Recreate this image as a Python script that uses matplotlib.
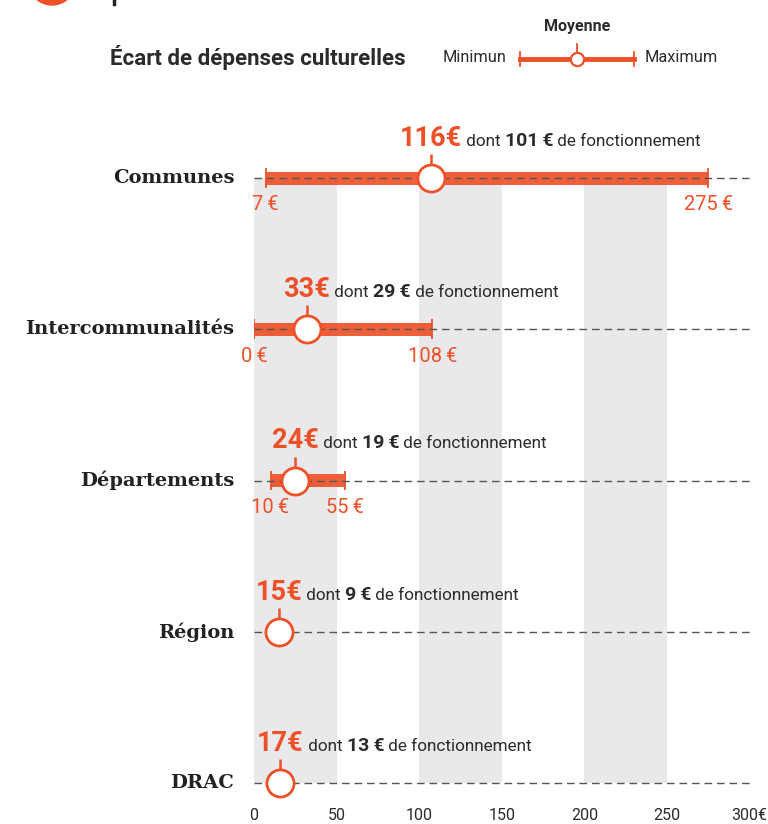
import numpy as np
import matplotlib.pyplot as plt
from matplotlib.lines import Line2D
from matplotlib.patches import Circle

# données
niveaux = ['Communes', 'Intercommunalités', 'Départements', 'Région', 'DRAC']
moyenne = [116, 33, 24, 15, 17]
moyenne_pos = [107, 32, 25, 15, 16]   # position du cercle
fonctionnement = [101, 29, 19, 9, 13]
minimum = [7, 0, 10, None, None]
maximum = [275, 108, 55, None, None]
ticks = [0, 50, 100, 150, 200, 250, 300]
tick_labels = ['0', '50', '100', '150', '200', '250', '300€']

ORANGE = '#EE5128'
GRIS = '#E9E9EC'
TEXTE = '#2b2b2b'
SANS = ['Roboto', 'DejaVu Sans']
SERIF = ['DejaVu Serif']

W, H = 768, 824
fig = plt.figure(figsize=(W / 100, H / 100), dpi=100)
renderer = fig.canvas.get_renderer()

def fpx(x, y):
    return x / W, 1 - y / H

# axes: 0 -> px 254, 300 -> px 749.6 ; lignes tous les 151.25 px, la première à y=178
ROW = 151.25
ax = fig.add_axes([254 / W, 0, 495.6 / W, 1])
ax.set_xlim(0, 300)
ax.set_ylim((H - 178) / ROW, -178 / ROW)
ax.axis('off')
py = lambda p: p / ROW  # pixels -> unités y

# bandes grises
for a in [0, 100, 200]:
    ax.fill_between([a, a + 50], 0, len(niveaux) - 1, color=GRIS, lw=0, zorder=0)

rows = np.arange(len(niveaux))

for i, nom in enumerate(niveaux):
    ax.text(-12, i, nom, ha='right', va='center', fontsize=14, fontweight='bold',
            family=SERIF, color='#222222', clip_on=False)
    if minimum[i] is not None:
        ax.barh(i, maximum[i] - minimum[i], left=minimum[i], height=py(13),
                color=ORANGE, alpha=0.92, zorder=2, lw=0)
        ax.vlines([minimum[i], maximum[i]], i - py(10), i + py(10), color=ORANGE, lw=1.3, zorder=2)
        for v in [minimum[i], maximum[i]]:
            ax.text(v, i + py(27), f'{v}\u2009€', ha='center', va='center', fontsize=14.5,
                    color=ORANGE, family=SANS)

ax.hlines(rows, 0, 300, color='#555555', lw=1, linestyles=(0, (5.5, 3.5)), zorder=3)

for i in rows:
    x = moyenne_pos[i]
    ax.vlines(x, i - py(14), i - py(24), color=ORANGE, lw=1.8, zorder=4)
    ax.plot(x, i, 'o', ms=19.5, mfc='white', mec=ORANGE, mew=2, zorder=5)
    yb = i - py(32)
    t = ax.text(x, yb, f'{moyenne[i]}€', ha='center', va='baseline', fontsize=19.5,
                fontweight='bold', color=ORANGE, family=SANS)
    morceaux = [(' dont ', 'normal'), (f'{fonctionnement[i]}\u2009€', 'bold'),
                (' de fonctionnement', 'normal')]
    for s, w in morceaux:
        x1 = t.get_window_extent(renderer).x1
        xd = ax.transData.inverted().transform((x1, 0))[0]
        fs = 14 if w == 'bold' else 12.3
        t = ax.text(xd, yb, s, ha='left', va='baseline', fontsize=fs, fontweight=w,
                    color=TEXTE, family=SANS)

for v, lab in zip(ticks, tick_labels):
    ax.text(v, 4 + py(32), lab, ha='center', va='center', fontsize=11.5,
            color=TEXTE, family=SANS, clip_on=False)

# légende
fig.text(*fpx(110, 57), 'Écart de dépenses culturelles', ha='left', va='center',
         fontsize=16, fontweight='bold', color=TEXTE, family=SANS)
fig.text(*fpx(443, 58), 'Minimun', ha='left', va='center', fontsize=11.8,
         color=TEXTE, family=SANS)
fig.text(*fpx(645, 58), 'Maximum', ha='left', va='center', fontsize=11.8,
         color=TEXTE, family=SANS)
fig.text(*fpx(577, 27), 'Moyenne', ha='center', va='center', fontsize=11.5,
         fontweight='bold', color=TEXTE, family=SANS)
(x0, y0), (x1, _) = fpx(520, 59), fpx(634, 59)
fig.add_artist(Line2D([x0, x1], [y0, y0], color=ORANGE, lw=3.5))
for xx in [520, 634]:
    a, b = fpx(xx, 52), fpx(xx, 66)
    fig.add_artist(Line2D([a[0], b[0]], [a[1], b[1]], color=ORANGE, lw=1.3))
a, b = fpx(577, 44), fpx(577, 52)
fig.add_artist(Line2D([a[0], b[0]], [a[1], b[1]], color=ORANGE, lw=1.3))
c = fpx(577, 59)
fig.add_artist(Line2D([c[0]], [c[1]], marker='o', ms=9.5, mfc='white', mec=ORANGE, mew=1.6))

# morceau du titre coupé en haut
fig.add_artist(Circle(fpx(52, -22), 27 / H, transform=fig.transFigure, color=ORANGE))
fig.add_artist(Line2D([fpx(114, 0)[0]] * 2, [fpx(0, 0)[1], fpx(0, 4)[1]], color='#222222', lw=2.5))

fig.savefig('out.png', dpi=100)
